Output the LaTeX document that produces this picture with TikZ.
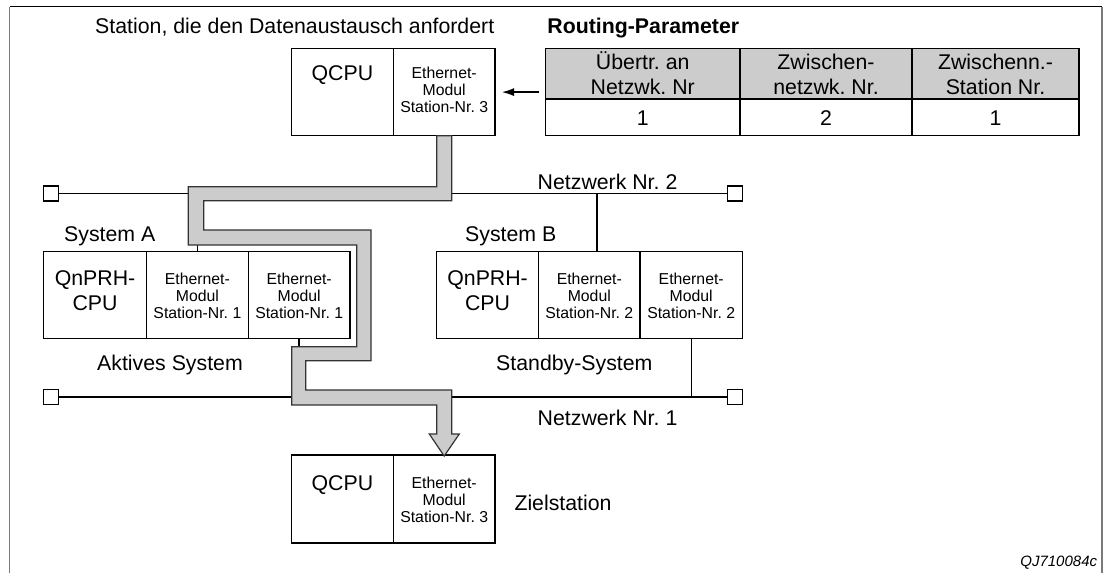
\documentclass[tikz,border=0pt]{standalone}
\usepackage{fontspec}
\setmainfont{Liberation Sans}
\frenchspacing
\usetikzlibrary{arrows.meta}
\definecolor{pipegray}{HTML}{CCCCCC}
\definecolor{framegray}{HTML}{7A7A7A}
\definecolor{pipeline}{HTML}{333333}
\begin{document}
\begin{tikzpicture}[x=1pt,y=-1pt,
  cellbox/.style={draw, line width=1.2pt, inner sep=0pt, outer sep=0pt, anchor=north west},
  hdrcell/.style={cellbox, fill=pipegray},
  bigtxt/.style={font=\fontsize{21.3}{25}\selectfont, align=center, inner sep=0pt, anchor=base},
  smalltxt/.style={font=\fontsize{15.8}{17}\selectfont, align=center, inner sep=0pt, anchor=base},
  lbl/.style={font=\fontsize{21.3}{25}\selectfont, inner sep=0pt, anchor=base west},
  netline/.style={line width=1.7pt},
  dropline/.style={line width=1.5pt},
  term/.style={draw, line width=1.1pt, fill=white, minimum size=15pt, inner sep=0pt, outer sep=0pt},
  pipe/.style={fill=pipegray, draw=pipeline, line width=1.2pt, line join=miter},
  arr/.style={-{Latex[length=12pt,width=8pt]}, line width=1.3pt},
  framel/.style={line width=1.3pt, draw=framegray}
]
\useasboundingbox (0,0) rectangle (1105,573);

% frame
\draw[framel] (9.5,573) -- (9.5,6.5);
\draw[framel] (1102,573) -- (1102,6.5);
\draw[line width=1pt] (9.5,6.5) -- (1102,6.5);

% networks
\node[term] (n2l) at (51.3,193.5) {};
\node[term] (n2r) at (735,193.5) {};
\node[term] (n1l) at (51.3,397) {};
\node[term] (n1r) at (735,397) {};
\draw[netline] (n2l) -- (n2r);
\draw[netline] (n1l) -- (n1r);

% requesting station
\node[cellbox, minimum width=101.8pt, minimum height=87.2pt] (qa) at (291.5,48.5) {};
\node[cellbox, minimum width=101.7pt, minimum height=87.2pt] (qb) at (393.3,48.5) {};
\node[bigtxt] (qatx) at (342.4,80) {QCPU};
\node[smalltxt] (qbtx) at (444.2,112.6) {Ethernet-\\Modul\\Station-Nr. 3};

% System A
\node[cellbox, minimum width=102.8pt, minimum height=86.6pt] (sa1) at (43.6,251.7) {};
\node[cellbox, minimum width=101.9pt, minimum height=86.6pt] (sa2) at (146.4,251.7) {};
\node[cellbox, minimum width=101.7pt, minimum height=86.6pt] (sa3) at (248.3,251.7) {};
\node[bigtxt] (sa1tx) at (95,310.2) {QnPRH-\\CPU};
\node[smalltxt] (sa2tx) at (197.4,318.3) {Ethernet-\\Modul\\Station-Nr. 1};
\node[smalltxt] (sa3tx) at (299.2,318.3) {Ethernet-\\Modul\\Station-Nr. 1};

% System B
\node[cellbox, minimum width=101.9pt, minimum height=86.6pt] (sb1) at (436.7,251.7) {};
\node[cellbox, minimum width=101.4pt, minimum height=86.6pt] (sb2) at (538.6,251.7) {};
\node[cellbox, minimum width=102.5pt, minimum height=86.6pt] (sb3) at (640,251.7) {};
\node[bigtxt] (sb1tx) at (487.6,310.2) {QnPRH-\\CPU};
\node[smalltxt] (sb2tx) at (589.3,318.3) {Ethernet-\\Modul\\Station-Nr. 2};
\node[smalltxt] (sb3tx) at (691.2,318.3) {Ethernet-\\Modul\\Station-Nr. 2};

% target station
\node[cellbox, minimum width=101.6pt, minimum height=88pt] (qc) at (291.7,455) {};
\node[cellbox, minimum width=101.7pt, minimum height=88pt] (qd) at (393.3,455) {};
\node[bigtxt] (qctx) at (342.4,490) {QCPU};
\node[smalltxt] (qdtx) at (444.2,522.3) {Ethernet-\\Modul\\Station-Nr. 3};

% drops
\draw[dropline] (sa2.north) -- (sa2.north |- n2l);
\draw[dropline] (sa3.south) -- (sa3.south |- n1l);
\draw[dropline] ([xshift=7.7pt]sb2.north) -- ([xshift=7.7pt]sb2.north |- n2l);
\draw[dropline] (sb3.south) -- (sb3.south |- n1l);

% routing table
\node[hdrcell, minimum width=194.6pt, minimum height=50.7pt] (t11) at (545.4,48.3) {};
\node[hdrcell, minimum width=172pt, minimum height=50.7pt] (t12) at (740,48.3) {};
\node[hdrcell, minimum width=167pt, minimum height=50.7pt] (t13) at (912,48.3) {};
\node[cellbox, minimum width=194.6pt, minimum height=36.7pt] (t21) at (545.4,99) {};
\node[cellbox, minimum width=172pt, minimum height=36.7pt] (t22) at (740,99) {};
\node[cellbox, minimum width=167pt, minimum height=36.7pt] (t23) at (912,99) {};
\node[bigtxt] (h1) at (642.7,94.8) {Übertr. an\\Netzwk. Nr};
\node[bigtxt] (h2) at (826,94.8) {Zwischen-\\netzwk. Nr.};
\node[bigtxt] (h3) at (995.5,94.8) {Zwischenn.-\\Station Nr.};
\node[bigtxt] (d1) at (642.7,125.5) {1};
\node[bigtxt] (d2) at (826,125.5) {2};
\node[bigtxt] (d3) at (995.5,125.5) {1};
\draw[arr, shorten <=6pt, shorten >=7pt] (t11.north west |- qb.east) -- (qb.east);

% routing pipe
\path[pipe] (436.7,135.7) -- (436.7,186.7) -- (188.3,186.7) -- (188.3,245)
  -- (356.7,245) -- (356.7,346.7) -- (291.7,346.7) -- (291.7,405)
  -- (436.7,405) -- (436.7,434) -- (429.3,434) -- (444.2,456) -- (459.3,434)
  -- (451.7,434) -- (451.7,390) -- (305.7,390) -- (305.7,360.7) -- (371,360.7)
  -- (371,230) -- (203.7,230) -- (203.7,200.7) -- (451.7,200.7) -- (451.7,135.7) -- cycle;

% labels
\node[lbl] (ltitle) at (95,33.3) {Station, die den Datenaustausch anfordert};
\node[lbl, font=\fontsize{21.3}{25}\selectfont\bfseries] (lrout) at (547.2,33.3) {Routing-Parameter};
\node[lbl] (lsa) at (64,241.7) {System A};
\node[lbl] (lsb) at (465,241.7) {System B};
\node[lbl] (lakt) at (97,370.7) {Aktives System};
\node[lbl] (lstb) at (496,370.7) {Standby-System};
\node[lbl] (lnw2) at (537.5,189.2) {Netzwerk Nr. 2};
\node[lbl] (lnw1) at (537.5,425) {Netzwerk Nr. 1};
\node[lbl] (lziel) at (514.3,510) {Zielstation};
\node[font=\fontsize{15}{17}\selectfont\itshape, inner sep=0pt, anchor=base east] (lcode) at (1097.3,566.7) {QJ710084c};
\end{tikzpicture}
\end{document}
